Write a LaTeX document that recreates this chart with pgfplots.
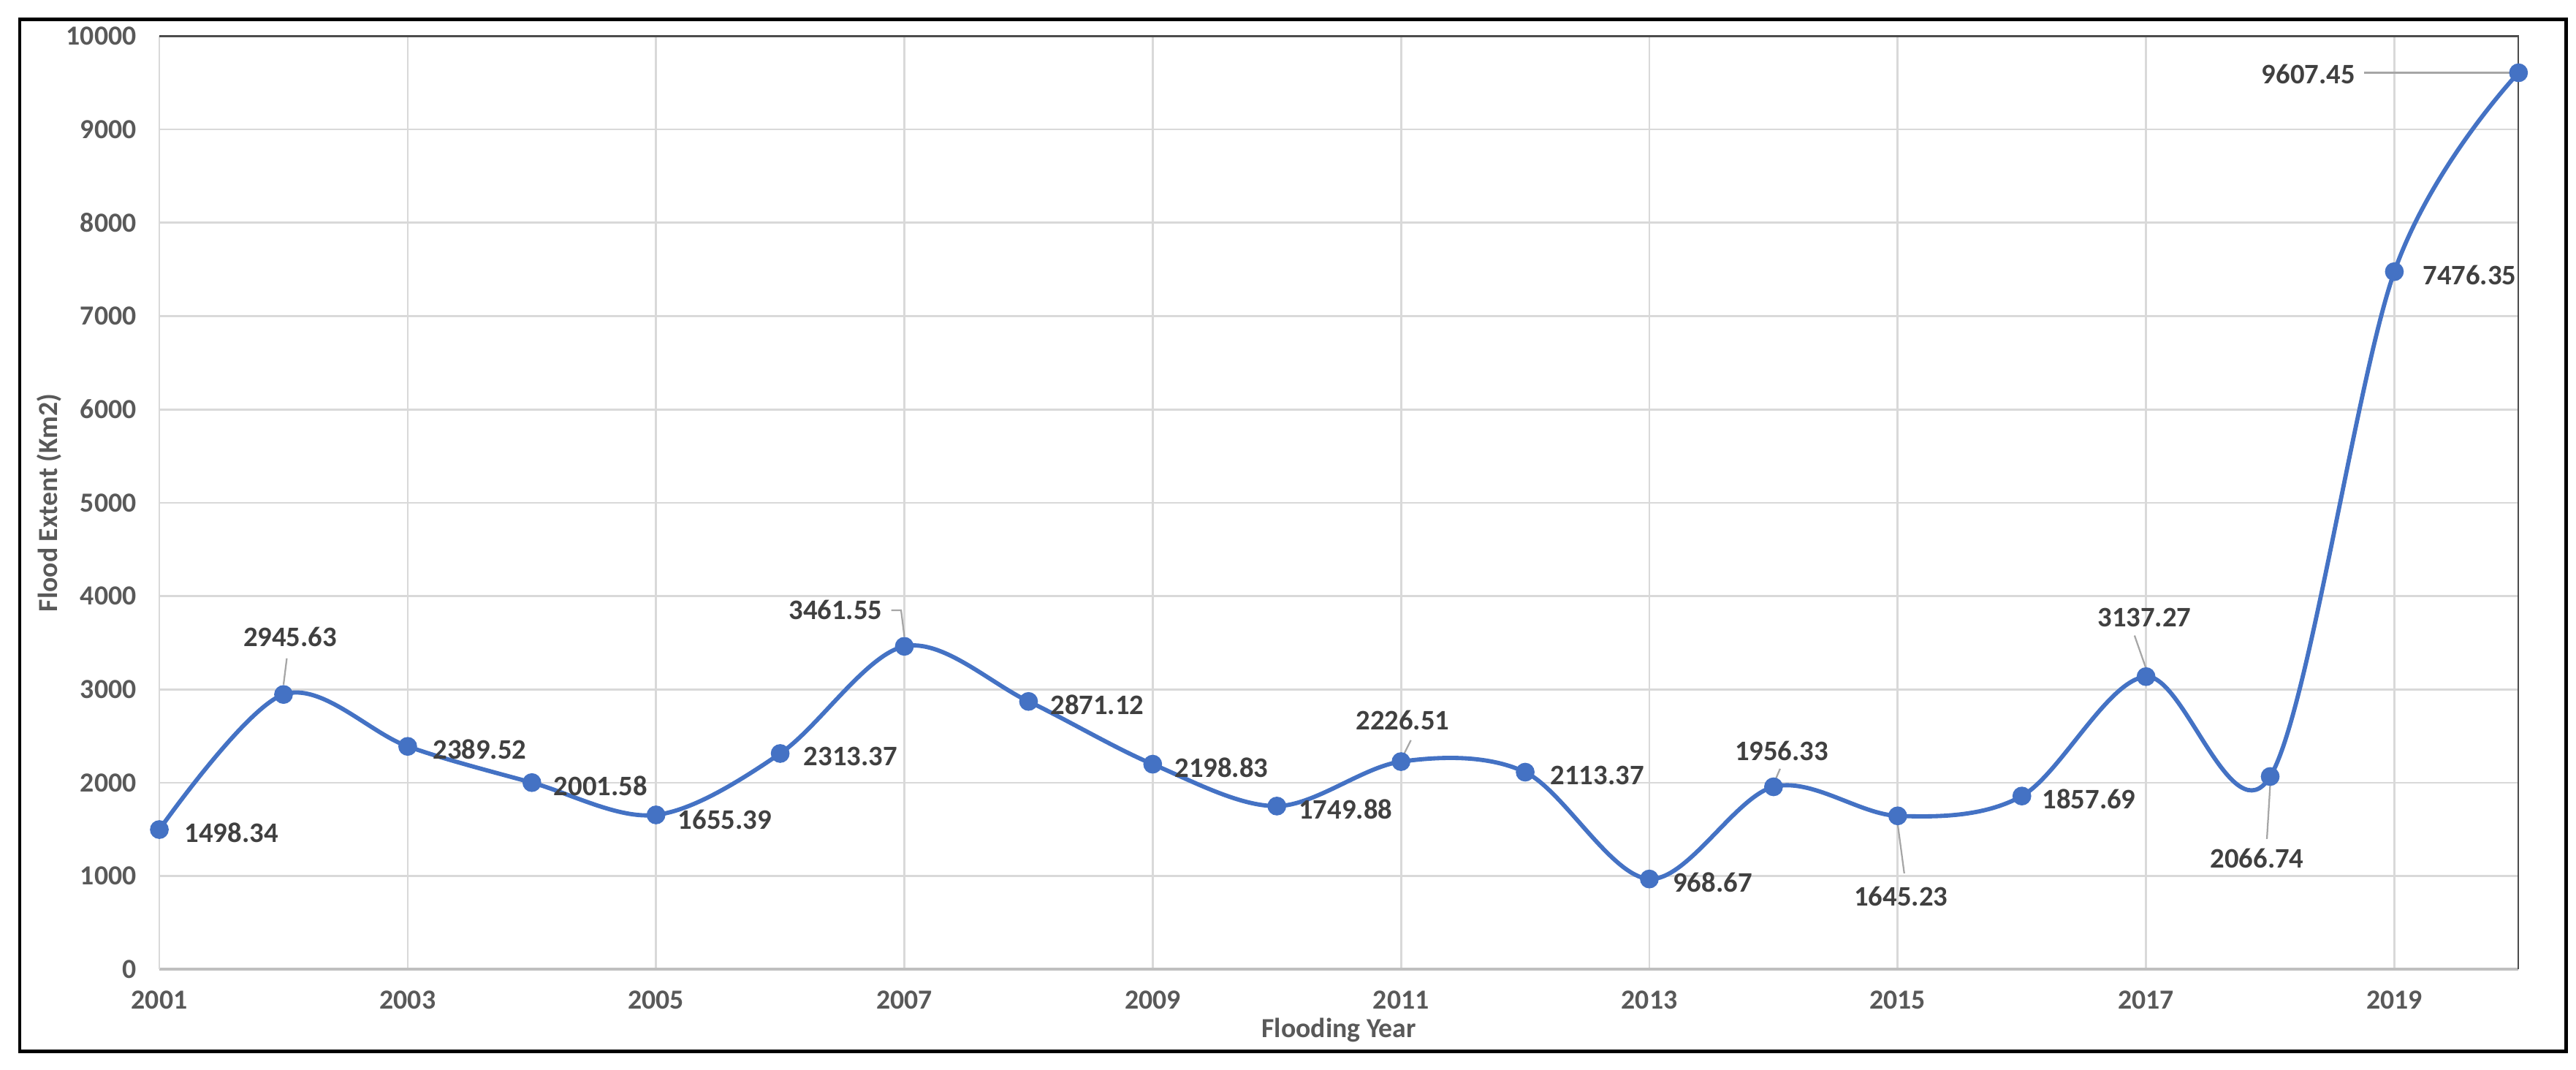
\documentclass[border=0pt]{standalone}
\usepackage{fontspec}
\setmainfont{Carlito}
\usepackage{pgfplots}
\pgfplotsset{compat=1.18}
\definecolor{lineblue}{HTML}{4472C4}
\definecolor{lblc}{HTML}{404040}
\definecolor{tickc}{HTML}{595959}
\definecolor{gridc}{HTML}{D9D9D9}
\definecolor{leadc}{HTML}{A6A6A6}
\tikzset{
  lbl/.style={font=\bfseries\fontsize{8.6}{10}\selectfont, text=lblc, inner sep=0pt},
  lead/.style={draw=leadc, line width=0.5pt},
}
\begin{document}
\begin{tikzpicture}
\path (0,0) rectangle (784pt,325.5pt);
\draw[line width=1.1pt] (6pt,5.5pt) rectangle (781pt,319.5pt);
\begin{axis}[at={(48.5pt,30.5pt)}, anchor=south west, scale only axis,
  width=718pt, height=284pt,
  xmin=2001, xmax=2020, ymin=0, ymax=10000,
  xtick={2001,2003,...,2019}, ytick={0,1000,...,10000},
  scaled ticks=false,
  grid=major, major grid style={gridc, line width=0.6pt},
  major tick length=0pt,
  axis x line*=bottom, axis y line*=left,
  x axis line style={draw=black!25, line width=0.9pt},
  y axis line style={draw=gridc, line width=0.6pt},
  clip=false,
  /pgf/number format/assume math mode=true,
  /pgf/number format/1000 sep={},
  ticklabel style={font=\bfseries\fontsize{8.4}{10}\selectfont, text=tickc},
  xticklabel style={yshift=-3pt},
  yticklabel style={xshift=-3.5pt},
  xlabel={Flooding Year}, ylabel={Flood Extent (Km2)},
  label style={font=\bfseries\fontsize{8.4}{10}\selectfont, text=tickc},
  x label style={at={(axis description cs:0.5,-0.0651)}, anchor=center},
  y label style={at={(axis description cs:-0.0467,0.5)}, anchor=center},
]
\draw[black!70, line width=0.5pt] (rel axis cs:0,1) -- (rel axis cs:1,1) -- (rel axis cs:1,0);
\addplot[lineblue, line width=1.3pt, smooth, tension=0.55, mark=*, mark size=2.2pt,
  mark options={fill=lineblue, draw=lineblue}] table {
x y
2001 1498.34
2002 2945.63
2003 2389.52
2004 2001.58
2005 1655.39
2006 2313.37
2007 3461.55
2008 2871.12
2009 2198.83
2010 1749.88
2011 2226.51
2012 2113.37
2013 968.67
2014 1956.33
2015 1645.23
2016 1857.69
2017 3137.27
2018 2066.74
2019 7476.35
2020 9607.45
};
% right-side labels
\node[lbl, anchor=west, xshift=7.5pt, yshift=-1pt] at (axis cs:2001,1498.34) {1498.34};
\node[lbl, anchor=west, xshift=7.5pt, yshift=-1pt] at (axis cs:2003,2389.52) {2389.52};
\node[lbl, anchor=west, xshift=6.5pt, yshift=-1pt] at (axis cs:2004,2001.58) {2001.58};
\node[lbl, anchor=west, xshift=6.5pt, yshift=-1.5pt] at (axis cs:2005,1655.39) {1655.39};
\node[lbl, anchor=west, xshift=7pt, yshift=-1pt] at (axis cs:2006,2313.37) {2313.37};
\node[lbl, anchor=west, xshift=6.5pt, yshift=-1pt] at (axis cs:2008,2871.12) {2871.12};
\node[lbl, anchor=west, xshift=6.5pt, yshift=-1pt] at (axis cs:2009,2198.83) {2198.83};
\node[lbl, anchor=west, xshift=6.5pt, yshift=-1pt] at (axis cs:2010,1749.88) {1749.88};
\node[lbl, anchor=west, xshift=7.5pt, yshift=-1pt] at (axis cs:2012,2113.37) {2113.37};
\node[lbl, anchor=west, xshift=7pt, yshift=-1pt] at (axis cs:2013,968.67) {968.67};
\node[lbl, anchor=west, xshift=6pt, yshift=-1pt] at (axis cs:2016,1857.69) {1857.69};
\node[lbl, anchor=west, xshift=8.5pt, yshift=-1pt] at (axis cs:2019,7476.35) {7476.35};
% labels with leader lines
\draw[lead] ([shift={(0pt,3pt)}]axis cs:2002,2945.63) -- ([shift={(1pt,11pt)}]axis cs:2002,2945.63);
\node[lbl, anchor=center, xshift=2pt, yshift=17.5pt] at (axis cs:2002,2945.63) {2945.63};
\draw[lead] ([shift={(0pt,3pt)}]axis cs:2007,3461.55) -- ([shift={(-1pt,11pt)}]axis cs:2007,3461.55) -- ([shift={(-4pt,11pt)}]axis cs:2007,3461.55);
\node[lbl, anchor=east, xshift=-6.5pt, yshift=11pt] at (axis cs:2007,3461.55) {3461.55};
\draw[lead] ([shift={(1pt,2.5pt)}]axis cs:2011,2226.51) -- ([shift={(3pt,6.5pt)}]axis cs:2011,2226.51);
\node[lbl, anchor=center, xshift=0.5pt, yshift=12.5pt] at (axis cs:2011,2226.51) {2226.51};
\draw[lead] ([shift={(0.5pt,2pt)}]axis cs:2014,1956.33) -- ([shift={(2pt,5.5pt)}]axis cs:2014,1956.33);
\node[lbl, anchor=center, xshift=2.5pt, yshift=11pt] at (axis cs:2014,1956.33) {1956.33};
\draw[lead] ([shift={(0pt,-2.5pt)}]axis cs:2015,1645.23) -- ([shift={(2pt,-17.5pt)}]axis cs:2015,1645.23);
\node[lbl, anchor=center, xshift=1pt, yshift=-24.5pt] at (axis cs:2015,1645.23) {1645.23};
\draw[lead] ([shift={(0pt,2.5pt)}]axis cs:2017,3137.27) -- ([shift={(-3.5pt,12.5pt)}]axis cs:2017,3137.27);
\node[lbl, anchor=center, xshift=-0.5pt, yshift=18pt] at (axis cs:2017,3137.27) {3137.27};
\draw[lead] ([shift={(0pt,-2.5pt)}]axis cs:2018,2066.74) -- ([shift={(-1pt,-19pt)}]axis cs:2018,2066.74);
\node[lbl, anchor=center, xshift=-4pt, yshift=-25pt] at (axis cs:2018,2066.74) {2066.74};
\draw[lead] ([shift={(-2.5pt,0pt)}]axis cs:2020,9607.45) -- ([shift={(-47pt,0pt)}]axis cs:2020,9607.45);
\node[lbl, anchor=east, xshift=-49.5pt, yshift=-0.5pt] at (axis cs:2020,9607.45) {9607.45};
\end{axis}
\end{tikzpicture}
\end{document}
